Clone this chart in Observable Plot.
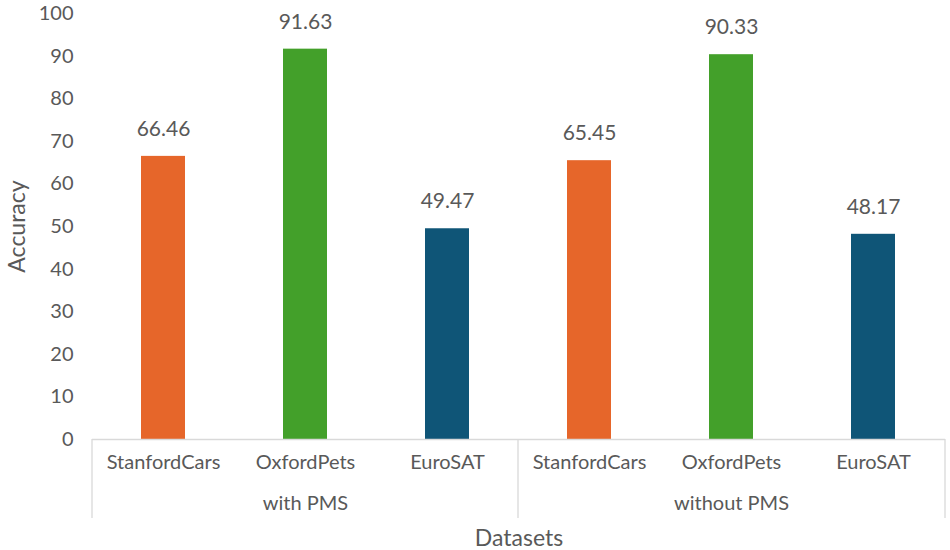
<!DOCTYPE html>
<html>
<head>
<meta charset="utf-8">
<script src="https://cdn.jsdelivr.net/npm/d3@7"></script>
<script src="https://cdn.jsdelivr.net/npm/@observablehq/plot@0.6"></script>
<style>
  html, body { margin: 0; padding: 0; background: #fff; }
  #chart { width: 950px; height: 550px; }
</style>
</head>
<body>
<div id="chart"></div>
<script>
// ---- data ----
const groups = ["with PMS", "without PMS"];
const datasets = ["StanfordCars", "OxfordPets", "EuroSAT"];
const withPMS = [66.46, 91.63, 49.47];
const withoutPMS = [65.45, 90.33, 48.17];
const colors = ["#E6662A", "#43A02A", "#0F5577"];
const yTicks = [0, 10, 20, 30, 40, 50, 60, 70, 80, 90, 100];

const seriesByGroup = [withPMS, withoutPMS];
const rows = [];
groups.forEach((g, gi) => {
  datasets.forEach((d, di) => {
    rows.push({key: g + "|" + d, group: g, dataset: d, value: seriesByGroup[gi][di], color: colors[di]});
  });
});
const keys = rows.map(r => r.key);
const groupLabels = groups.map(g => ({group: g, key: g + "|" + datasets[1]}));

const textColor = "#595959";
const font = "Lato, 'Noto Sans', sans-serif";

const plot = Plot.plot({
  width: 950,
  height: 550,
  marginLeft: 92,
  marginRight: 5,
  marginTop: 13,
  marginBottom: 111,
  style: {fontFamily: font, color: textColor, background: "#fff"},
  x: {domain: keys, paddingInner: 0.69, paddingOuter: 0.345},
  y: {domain: [0, 100]},
  marks: [
    Plot.barY(rows, {x: "key", y: "value", fill: d => d.color}),
    Plot.ruleY([0], {stroke: "#d9d9d9", strokeWidth: 1.3}),
    Plot.text(rows, {x: "key", y: "value", text: d => d.value.toFixed(2), dy: -27, fontSize: 21, fill: textColor, lineAnchor: "middle"}),
    Plot.axisY({ticks: yTicks, tickSize: 0, tickPadding: 19, fontSize: 20, label: null, fill: textColor}),
    Plot.axisX({tickSize: 0, tickPadding: 15, fontSize: 20, label: null, fill: textColor, tickFormat: k => k.split("|")[1]}),
    Plot.text(groupLabels, {x: "key", y: () => 0, text: "group", dy: 64, fontSize: 20, fill: textColor, lineAnchor: "middle"}),
    Plot.text(["Datasets"], {frameAnchor: "bottom", text: d => d, dy: 99, fontSize: 23, fill: textColor, lineAnchor: "middle", textAnchor: "middle"}),
    Plot.text(["Accuracy"], {frameAnchor: "left", text: d => d, dx: -75, rotate: -90, fontSize: 23, fill: textColor, lineAnchor: "middle", textAnchor: "middle"})
  ]
});

// group separators, positioned from Plot's own x scale
const xs = plot.scale("x");
const ys = plot.scale("y");
const n = xs.domain.length;
const r0 = Math.min(...xs.range), r1 = Math.max(...xs.range);
const bw = xs.bandwidth != null ? xs.bandwidth : (r1 - r0) / n * (1 - 0.69);
const center = k => xs.apply(k) + bw / 2;
const sepX = [r0];
for (let gi = 1; gi < groups.length; gi++) {
  const a = center(groups[gi - 1] + "|" + datasets[datasets.length - 1]);
  const b = center(groups[gi] + "|" + datasets[0]);
  sepX.push((a + b) / 2);
}
sepX.push(r1);
const y0 = ys.apply(0);
d3.select(plot).append("g")
  .selectAll("line").data(sepX).join("line")
  .attr("x1", d => d).attr("x2", d => d)
  .attr("y1", y0).attr("y2", y0 + 79)
  .attr("stroke", "#d9d9d9").attr("stroke-width", 1.3);

document.getElementById("chart").appendChild(plot);
</script>
</body>
</html>
